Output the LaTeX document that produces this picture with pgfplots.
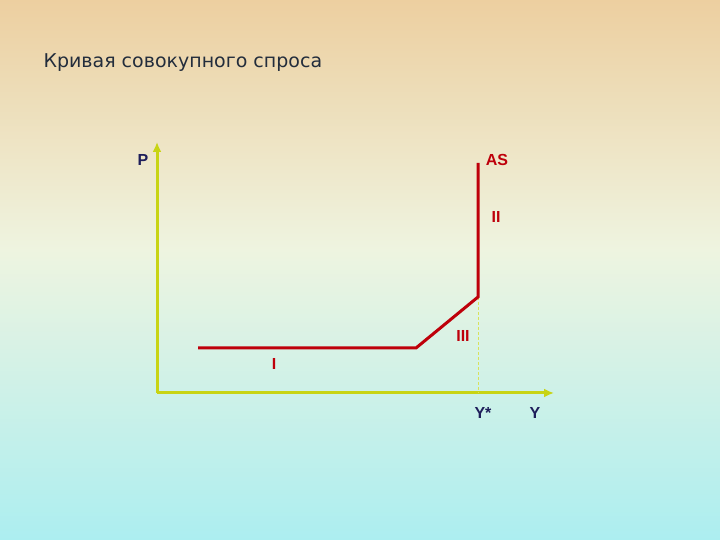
\documentclass[border=0pt]{standalone}
\usepackage{fontspec}
\setmainfont{DejaVu Sans}
\newfontfamily\labfont{Liberation Sans}
\usepackage{pgfplots}
\pgfplotsset{compat=1.18}
\usetikzlibrary{arrows.meta}

\definecolor{bgtop}{RGB}{237,207,160}
\definecolor{bgmid}{RGB}{238,244,224}
\definecolor{bgbot}{RGB}{172,238,240}
\definecolor{axisgreen}{RGB}{200,212,20}
\definecolor{asred}{RGB}{190,0,10}
\definecolor{navy}{RGB}{30,30,90}
\definecolor{titlecol}{RGB}{35,45,60}

\newcommand{\lab}{\labfont\fontsize{16}{18}\selectfont\bfseries}

\begin{document}
\begin{tikzpicture}
    \shade[top color=bgtop, bottom color=bgmid] (0,290pt) rectangle (720pt,540pt);
    \shade[top color=bgmid, bottom color=bgbot] (0,0) rectangle (720pt,290.5pt);
    \useasboundingbox (0,0) rectangle (720pt,540pt);
    \begin{axis}[
        at={(0,0)}, anchor=south west,
        scale only axis,
        width=720pt, height=540pt,
        xmin=0, xmax=720, ymin=0, ymax=540,
        axis lines=none,
        clip=false,
    ]
        % axes of the diagram
        \addplot[axisgreen, line width=3pt, -{Latex[length=10pt,width=9pt]}] coordinates {(157,147) (157,398)};
        \addplot[axisgreen, line width=3pt, -{Latex[length=10pt,width=9pt]}] coordinates {(157,147) (554,147)};
        % Y* guide
        \addplot[axisgreen!70!white, line width=0.8pt, dash pattern=on 3pt off 2pt] coordinates {(478,243) (478,147)};
        % AS curve
        \addplot[asred, line width=3pt, line join=miter] coordinates {(198,192) (416,192) (478,243) (478,377)};

        \node[navy, font=\lab] at (axis cs:143,380) {P};
        \node[asred, font=\lab] at (axis cs:497,380) {AS};
        \node[asred, font=\lab] at (axis cs:496,323) {II};
        \node[asred, font=\lab] at (axis cs:463,204) {III};
        \node[asred, font=\lab] at (axis cs:274,176) {I};
        \node[navy, font=\lab] at (axis cs:483,127) {Y*};
        \node[navy, font=\lab] at (axis cs:535,127) {Y};
        \node[anchor=west, text=titlecol, font=\fontsize{19}{21}\selectfont] at (axis cs:40,477) {Кривая совокупного спроса};
    \end{axis}
\end{tikzpicture}
\end{document}
